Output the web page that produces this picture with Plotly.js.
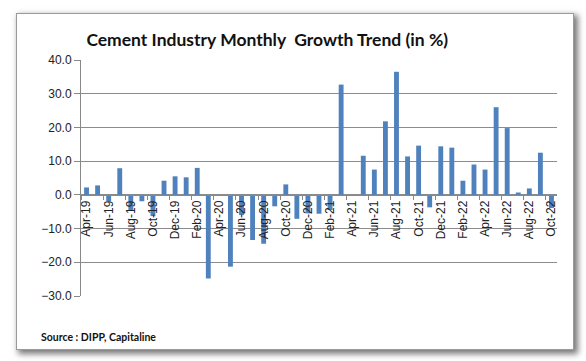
<!DOCTYPE html>
<html>
<head>
<meta charset="utf-8">
<script src="https://cdn.plot.ly/plotly-3.0.1.min.js"></script>
<style>
  html, body { margin: 0; padding: 0; background: #ffffff; }
  #frame { position: absolute; left: 16px; top: 13px; width: 556px; height: 335px;
           background: #ffffff; border: 1px solid #9a9a9a;
           box-shadow: 3px 3px 6px 1px #7a7a7a; }
  #chart { position: absolute; left: 0; top: 0; width: 586px; height: 361px; }
</style>
</head>
<body>
<div id="frame"></div>
<div id="chart"></div>
<script>
const months = [
  "Apr-19","May-19","Jun-19","Jul-19","Aug-19","Sep-19","Oct-19","Nov-19","Dec-19","Jan-20","Feb-20","Mar-20",
  "Apr-20","May-20","Jun-20","Jul-20","Aug-20","Sep-20","Oct-20","Nov-20","Dec-20","Jan-21","Feb-21","Mar-21",
  "Apr-21","May-21","Jun-21","Jul-21","Aug-21","Sep-21","Oct-21","Nov-21","Dec-21","Jan-22","Feb-22","Mar-22",
  "Apr-22","May-22","Jun-22","Jul-22","Aug-22","Sep-22","Oct-22"
];
const growth = [
  2.2, 2.8, -1.9, 7.9, -4.7, -1.9, -6.3, 4.2, 5.5, 5.2, 8.0, -24.8,
  null, -21.3, -6.0, -13.4, -14.5, -3.4, 3.1, -7.1, -5.5, -5.6, -4.5, 32.7,
  null, 11.6, 7.5, 21.8, 36.5, 11.4, 14.6, -3.7, 14.4, 14.0, 4.2, 9.0,
  7.5, 26.0, 19.8, 0.7, 1.9, 12.5, -3.9
];
const yTicks = [-30, -20, -10, 0, 10, 20, 30, 40];
const titleText = "Cement Industry Monthly&nbsp; Growth Trend (in %)";
const sourceText = "Source : DIPP, Capitaline";

const yMin = -30, yMax = 40;

const trace = {
  type: "bar",
  x: months,
  y: growth,
  marker: { color: "#4F81BD" },
  hoverinfo: "x+y"
};

const layout = {
  width: 586, height: 361,
  paper_bgcolor: "rgba(0,0,0,0)",
  plot_bgcolor: "rgba(0,0,0,0)",
  margin: { l: 81, r: 29, t: 60, b: 65 },
  bargap: 0.56,
  showlegend: false,
  font: { family: "Liberation Sans, Arial, sans-serif", size: 12, color: "#222" },
  title: {
    text: "<b>" + titleText + "</b>",
    font: { family: "Lato, Liberation Sans, sans-serif", size: 17.5, color: "#111" },
    xref: "container", x: 0.456, xanchor: "center",
    yref: "container", y: 0.889, yanchor: "middle"
  },
  xaxis: {
    type: "category",
    anchor: "free",
    position: (0 - yMin) / (yMax - yMin),
    tickmode: "linear", tick0: 0, dtick: 2,
    tickson: "boundaries",
    ticks: "outside", ticklen: 4, tickcolor: "#888",
    tickangle: -90,
    tickfont: { family: "Liberation Sans, Arial, sans-serif", size: 12, color: "#222" },
    showline: true, linecolor: "#888", linewidth: 1,
    showgrid: false, zeroline: false,
    fixedrange: true
  },
  yaxis: {
    range: [yMin, yMax],
    tickvals: yTicks,
    tickformat: ".1f",
    ticks: "outside", ticklen: 6, tickcolor: "#888",
    showline: true, linecolor: "#888", linewidth: 1,
    showgrid: true, gridcolor: "#8c8c8c", gridwidth: 1,
    zeroline: false,
    tickfont: { family: "Liberation Sans, Arial, sans-serif", size: 12, color: "#222" },
    fixedrange: true
  },
  annotations: [{
    text: "<b>" + sourceText + "</b>",
    xref: "paper", x: (39 - 81) / 476, xanchor: "left",
    yref: "paper", y: (296 - 337) / 236, yanchor: "middle",
    showarrow: false,
    font: { family: "Lato, Liberation Sans, sans-serif", size: 10.5, color: "#111" }
  }]
};

Plotly.newPlot("chart", [trace], layout, { displayModeBar: false, staticPlot: true });
</script>
</body>
</html>
